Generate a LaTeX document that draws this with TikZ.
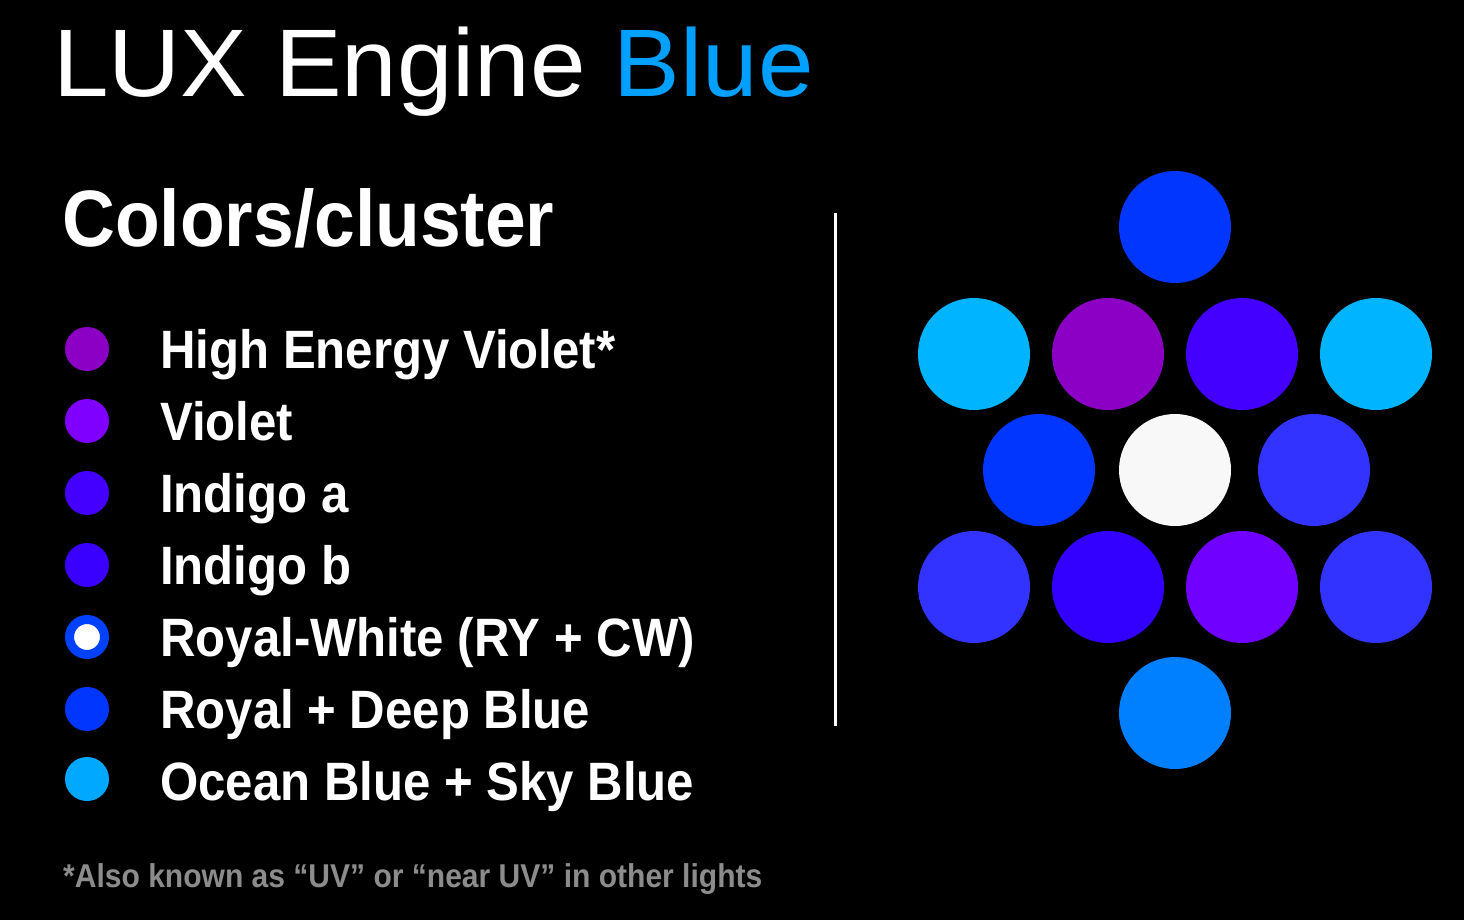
\documentclass[tikz,border=0pt]{standalone}
\usepackage{fontspec}
\newfontfamily\titlef[FakeStretch=1.04]{Liberation Sans}
\newfontfamily\headf[FakeStretch=0.915]{Liberation Sans Bold}
\newfontfamily\legf[FakeStretch=0.91]{Liberation Sans Bold}
\newfontfamily\footf[FakeStretch=0.91]{Liberation Sans Bold}
\definecolor{titleblue}{HTML}{00A0FF}
\definecolor{hev}{HTML}{8B00C4}
\definecolor{violet}{HTML}{7F00FF}
\definecolor{indigoa}{HTML}{4400FF}
\definecolor{indigob}{HTML}{3A00FF}
\definecolor{royal}{HTML}{0036FF}
\definecolor{ringblue}{HTML}{0040FF}
\definecolor{ocean}{HTML}{00A8FF}
\definecolor{cyanled}{HTML}{00B4FF}
\definecolor{royalmix}{HTML}{3333FF}
\definecolor{indigoc}{HTML}{3300FF}
\definecolor{violetc}{HTML}{7000FF}
\definecolor{bottomblue}{HTML}{0080FF}
\definecolor{whiteled}{HTML}{F8F8F8}
\definecolor{footgray}{HTML}{8C8C8C}
\tikzset{
  led/.style={circle, fill=#1, draw=none, minimum size=112pt, inner sep=0pt},
  dot/.style={circle, fill=#1, draw=none, minimum size=44pt, inner sep=0pt},
  legtext/.style={anchor=base west, inner sep=0pt, text=white, font=\legf\fontsize{54}{60}\selectfont},
}
\begin{document}
\begin{tikzpicture}[x=1pt, y=-1pt]
\fill[black] (0,0) rectangle (1464,920);
\useasboundingbox (0,0) rectangle (1464,920);

% title
\node[anchor=base west, inner sep=0pt, text=white, font=\titlef\fontsize{96}{100}\selectfont] (title) at (53,97) {LUX Engine \textcolor{titleblue}{Blue}};

% heading
\node[anchor=base west, inner sep=0pt, text=white, font=\headf\fontsize{80}{90}\selectfont] (head) at (62,247) {Colors/cluster};

% legend dots
\node[dot=hev] (d1) at (87,349) {};
\node[dot=violet] (d2) at (87,421) {};
\node[dot=indigoa] (d3) at (87,493) {};
\node[dot=indigob] (d4) at (87,565) {};
\node[circle, fill=white, draw=ringblue, line width=9pt, minimum size=35pt, inner sep=0pt] (d5) at (87,637) {};
\node[dot=royal] (d6) at (87,709) {};
\node[dot=ocean] (d7) at (87,779) {};

% legend text
\node[legtext] (t1) at (160,368) {High Energy Violet*};
\node[legtext] (t2) at (160,440) {Violet};
\node[legtext] (t3) at (160,512) {Indigo a};
\node[legtext] (t4) at (160,584) {Indigo b};
\node[legtext] (t5) at (160,656) {Royal-White (RY + CW)};
\node[legtext] (t6) at (160,728) {Royal + Deep Blue};
\node[legtext] (t7) at (160,800) {Ocean Blue + Sky Blue};

% footnote
\node[anchor=base west, inner sep=0pt, text=footgray, font=\footf\fontsize{33}{36}\selectfont] (foot) at (63,887) {*Also known as “UV” or “near UV” in other lights};

% divider
\coordinate (ltop) at (835,213);
\coordinate (lbot) at (835,726);
\draw[white, line width=3pt] (ltop) -- (lbot);

% cluster
\node[led=royal] (c1) at (1175,227) {};
\node[led=cyanled] (c2) at (974,354) {};
\node[led=hev] (c3) at (1108,354) {};
\node[led=indigoa] (c4) at (1242,354) {};
\node[led=cyanled] (c5) at (1376,354) {};
\node[led=royal] (c6) at (1039,470) {};
\node[led=whiteled] (c7) at (1175,470) {};
\node[led=royalmix] (c8) at (1314,470) {};
\node[led=royalmix] (c9) at (974,587) {};
\node[led=indigoc] (c10) at (1108,587) {};
\node[led=violetc] (c11) at (1242,587) {};
\node[led=royalmix] (c12) at (1376,587) {};
\node[led=bottomblue] (c13) at (1175,713) {};
\end{tikzpicture}
\end{document}
